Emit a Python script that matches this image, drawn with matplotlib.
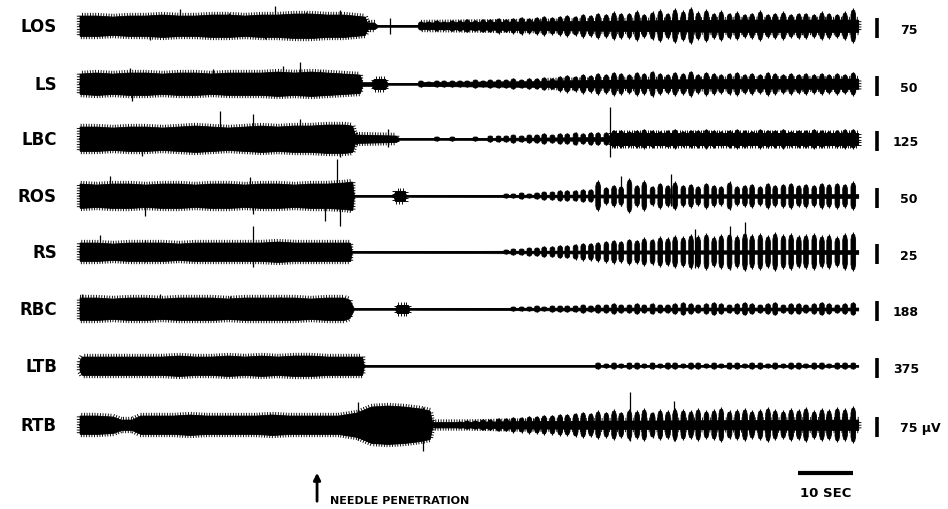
import numpy as np
import matplotlib.pyplot as plt
import matplotlib.patheffects as pe

# channel names and calibration labels (right side)
channels = ['LOS', 'LS', 'LBC', 'ROS', 'RS', 'RBC', 'LTB', 'RTB']
cal_labels = ['75', '50', '125', '50', '25', '188', '375', '75 µV']

needle_t = 43.1      # s, needle penetration
scale_sec = 10       # time scale bar
trace_end = 141.5    # s

# burst times (s) of the rhythmic activity after penetration, shared by all channels
burst_t = [62.0, 63.4, 64.9, 66.2, 67.7, 69.1, 70.4, 71.9, 73.3, 74.6,
           76.1, 77.5, 78.8, 80.3, 81.7, 83.1, 84.4, 85.9, 87.3, 88.6,
           90.1, 91.5, 92.9, 94.2, 95.7, 97.1, 98.4, 99.9, 101.3, 102.6,
           104.1, 105.5, 106.9, 108.2, 109.7, 111.1, 112.4, 113.9, 115.3, 116.6,
           118.1, 119.5, 120.9, 122.2, 123.7, 125.1, 126.4, 127.9, 129.3, 130.7,
           132.0, 133.5, 134.9, 136.2, 137.7, 139.1, 140.6]

# continuous envelope (time s, half amplitude)
los_t = [0, 3, 6, 9, 12, 15, 18, 21, 24, 27, 30, 33, 36, 39, 42, 45, 48, 51.8, 52.2, 53.6, 54.0, 61.5, 62.0, 80, 100, 120, 141.5]
los_a = [10, 10, 9, 10, 10, 11, 10, 10, 11, 11, 10, 11, 11, 12, 12, 11, 11, 9, 3, 3, 0.8, 0.8, 3, 4, 5, 6, 6]
ls_t = [0, 3, 6, 9, 12, 15, 18, 21, 24, 27, 30, 33, 36, 39, 42, 45, 48, 50.9, 51.3, 53.0, 53.4, 55.5, 55.9, 61.5, 62.0, 85, 100, 141.5]
ls_a = [10, 11, 10, 11, 11, 10, 11, 11, 10, 11, 11, 11, 12, 11, 12, 11, 10, 9, 2, 2, 5, 5, 0.8, 0.8, 2, 3, 4, 5]
lbc_t = [0, 3, 6, 9, 12, 15, 18, 21, 24, 27, 30, 33, 36, 39, 42, 45, 48, 49.5, 50.0, 57.5, 58.0, 66, 96.0, 96.5, 141.5]
lbc_a = [12, 12, 11, 12, 12, 11, 12, 13, 12, 11, 12, 13, 12, 13, 13, 14, 14, 13, 4, 3, 0.8, 0.8, 2, 6, 6]
ros_t = [0, 3, 6, 9, 12, 15, 18, 21, 24, 27, 30, 33, 36, 39, 42, 45, 48, 49.5, 49.8, 57.0, 57.3, 59.0, 59.3, 95, 141.5]
ros_a = [12, 11, 12, 12, 11, 12, 12, 11, 12, 12, 11, 12, 12, 11, 12, 12, 13, 14, 0.8, 0.8, 5, 5, 0.8, 1.5, 2]
rs_t = [0, 3, 6, 9, 12, 15, 18, 21, 24, 27, 30, 33, 36, 39, 42, 45, 48, 49.1, 49.4, 95, 141.5]
rs_a = [9, 9, 8, 9, 9, 9, 8, 9, 9, 9, 9, 9, 10, 9, 9, 9, 9, 9, 0.8, 1.5, 2]
rbc_t = [0, 3, 6, 9, 12, 15, 18, 21, 24, 27, 30, 33, 36, 39, 42, 45, 48, 49.0, 49.8, 57.3, 57.6, 59.6, 59.9, 95, 141.5]
rbc_a = [11, 11, 10, 11, 11, 10, 11, 11, 11, 10, 11, 11, 11, 11, 10, 11, 11, 9, 0.8, 0.8, 4, 4, 0.8, 1.5, 1.5]
ltb_t = [0, 0.4, 3, 6, 9, 12, 15, 18, 21, 24, 27, 30, 33, 36, 39, 42, 45, 48, 51.3, 51.6, 141.5]
ltb_a = [5, 9, 9, 9, 9, 9, 9, 10, 9, 9, 10, 9, 10, 9, 10, 10, 9, 9, 9, 0.8, 0.8]
rtb_t = [0, 3, 6, 7.5, 9.5, 11, 14, 17, 20, 23, 26, 29, 32, 35, 38, 41, 44, 47, 50.4, 53, 56, 59, 62, 63.6, 64.0, 70, 80, 100, 141.5]
rtb_a = [9, 9, 8, 5, 5, 9, 9, 9, 10, 9, 9, 9, 9, 10, 9, 9, 9, 9, 12, 18, 19, 18, 16, 14, 2.5, 2.5, 3.5, 4, 5]

# burst half amplitudes, one per burst_t
los_b = [4, 4, 5, 4, 5, 5, 6, 5, 6, 6, 7, 6, 7, 8, 7, 8, 9, 8, 9, 10,
         9, 11, 10, 12, 11, 13, 12, 12, 14, 11, 13, 15, 12, 16, 14, 17, 13, 15, 12, 14,
         12, 13, 11, 12, 14, 11, 12, 13, 11, 12, 12, 11, 13, 12, 11, 13, 16]
ls_b = [3, 2, 3, 3, 3, 3, 3, 4, 3, 4, 4, 4, 5, 4, 5, 5, 6, 5, 7, 8,
        7, 9, 8, 10, 9, 11, 10, 9, 11, 10, 12, 10, 9, 11, 10, 12, 9, 11, 10, 9,
        10, 11, 9, 10, 9, 11, 10, 9, 10, 9, 10, 9, 10, 9, 10, 9, 11]
lbc_b = [0, 0, 2, 0, 2, 0, 0, 2, 0, 3, 3, 3, 4, 3, 4, 4, 5, 4, 5, 5,
         6, 5, 6, 6, 6, 8, 8, 7, 8, 9, 8, 7, 8, 9, 7, 8, 8, 9, 8, 7,
         8, 9, 8, 7, 9, 8, 8, 9, 7, 8, 8, 9, 8, 7, 8, 9, 9]
ros_b = [0, 0, 0, 0, 0, 0, 0, 0, 0, 0, 0, 2, 2, 3, 2, 3, 4, 4, 5, 5,
         5, 6, 6, 14, 8, 10, 9, 16, 10, 14, 9, 12, 10, 13, 10, 11, 9, 12, 10, 9,
         13, 9, 10, 11, 9, 12, 10, 11, 12, 10, 11, 10, 12, 11, 12, 11, 13]
rs_b = [0, 0, 0, 0, 0, 0, 0, 0, 0, 0, 0, 2, 3, 3, 4, 4, 5, 5, 6, 6,
        7, 8, 8, 9, 10, 11, 10, 12, 11, 13, 12, 14, 13, 15, 14, 16, 15, 17, 14, 16,
        17, 15, 18, 16, 17, 15, 18, 16, 17, 15, 16, 17, 15, 16, 14, 17, 18]
rbc_b = [0, 0, 0, 0, 0, 0, 0, 0, 0, 0, 0, 0, 2, 2, 2, 3, 2, 3, 3, 3,
         3, 4, 3, 4, 4, 5, 4, 4, 5, 4, 5, 4, 4, 5, 6, 5, 4, 5, 6, 5,
         4, 5, 6, 5, 4, 5, 6, 4, 5, 5, 4, 5, 6, 5, 4, 5, 6]
ltb_b = [0, 0, 0, 0, 0, 0, 0, 0, 0, 0, 0, 0, 0, 0, 0, 0, 0, 0, 0, 0,
         0, 0, 0, 3, 2, 3, 2, 3, 3, 2, 3, 2, 3, 3, 2, 3, 3, 2, 3, 2,
         3, 3, 2, 3, 3, 2, 3, 2, 3, 3, 2, 3, 3, 2, 3, 3, 3]
rtb_b = [0, 0, 0, 0, 0, 3, 4, 4, 5, 5, 6, 6, 7, 7, 8, 8, 9, 9, 10, 10,
         11, 12, 11, 13, 12, 14, 12, 14, 13, 15, 12, 14, 13, 15, 14, 13, 15, 13, 14, 16,
         13, 14, 15, 13, 14, 16, 14, 13, 15, 14, 16, 13, 15, 14, 16, 15, 17]

# single spikes: time, extent up, extent down
los_sp = [(12.7, 10, 14), (18.2, 17, 9), (27.0, 13, 11), (33.6, 11, 13), (35.5, 20, 9), (41.0, 14, 10), (47.3, 16, 9), (56.4, 8, 8)]
ls_sp = [(9.1, 16, 9), (9.5, 8, 17), (24.2, 15, 10), (36.9, 18, 9), (40.0, 22, 12), (43.6, 14, 10)]
lbc_sp = [(11.3, 12, 17), (25.5, 28, 11), (31.5, 25, 12), (40.0, 20, 12), (47.3, 14, 18), (56.0, 10, 8), (96.4, 32, 18)]
ros_sp = [(5.5, 20, 10), (11.8, 9, 20), (30.9, 19, 10), (31.5, 10, 18), (44.5, 10, 25), (46.7, 37, 14), (47.3, 12, 30), (98.4, 20, 10), (107.5, 22, 10)]
rs_sp = [(3.6, 17, 9), (11.8, 12, 10), (31.5, 26, 15), (49.1, 8, 9), (111.8, 23, 16), (118.2, 26, 17), (120.9, 30, 18)]
rbc_sp = [(0.4, 15, 10), (14.5, 15, 9), (27.3, 13, 10), (36.4, 12, 9)]
ltb_sp = []
rtb_sp = [(34.5, 12, 10), (50.5, 23, 15), (62.4, 18, 26), (100.0, 33, 16), (108.0, 24, 16)]

env_t = [los_t, ls_t, lbc_t, ros_t, rs_t, rbc_t, ltb_t, rtb_t]
env_a = [los_a, ls_a, lbc_a, ros_a, rs_a, rbc_a, ltb_a, rtb_a]
bursts = [los_b, ls_b, lbc_b, ros_b, rs_b, rbc_b, ltb_b, rtb_b]
spikes = [los_sp, ls_sp, lbc_sp, ros_sp, rs_sp, rbc_sp, ltb_sp, rtb_sp]

# layout (figure pixels)
X0 = 80
PX_PER_S = 5.5
row_y = [27, 85, 140, 197, 253, 310, 367, 426]
burst_w = 0.42                                   # half width of one burst, s
burst_dx = [-1, -0.6, 0, 0.6, 1]
burst_dy = [0.7, 0.95, 1.0, 0.95, 0.7]
hairy = [pe.withTickedStroke(spacing=1.9, angle=90, length=1.2, linewidth=0.65)]

fig = plt.figure(figsize=(9.48, 5.10), dpi=100)
ax = fig.add_axes([0, 0, 1, 1])
ax.set_xlim(-X0 / PX_PER_S, (948 - X0) / PX_PER_S)
ax.set_ylim(510, 0)
ax.axis('off')

dx = np.array(burst_dx) * burst_w
dy = np.array(burst_dy)
for i, name in enumerate(channels):
    c = row_y[i]
    t = np.array(env_t[i])
    a = np.array(env_a[i])
    ax.plot([0, trace_end], [c, c], color='k', lw=1.3)
    ax.fill_between(t, c - a, c + a, color='k', lw=0.5)
    busy = ax.fill_between(t, c - a, c + a, where=a > 2, color='k', lw=0.5)
    busy.set_path_effects(hairy)
    for tb, b in zip(burst_t, bursts[i]):
        if b <= 0:
            continue
        xs = np.concatenate([tb + dx, (tb + dx)[::-1]])
        ys = np.concatenate([c - b * dy, (c + b * dy)[::-1]])
        ax.fill(xs, ys, color='k', lw=0.6)
        ax.vlines(tb, c - 1.12 * b, c + 1.08 * b, color='k', lw=0.8)
    if spikes[i]:
        st, up, dn = np.array(spikes[i]).T
        ax.vlines(st, c - up, c + dn, color='k', lw=0.9)
    ax.text(-4.2, c, name, ha='right', va='center', fontsize=12, fontweight='bold')
    # calibration bar and value
    ax.vlines(144.9, c - 8, c + 12, color='k', lw=2.6)
    lbl = cal_labels[i]
    xl = 900 if len(lbl.split()[0]) == 2 else 893
    ax.text((xl - X0) / PX_PER_S, c + 3, lbl, ha='left', va='center', fontsize=9, fontweight='bold')

# needle penetration arrow
ax.annotate('', xy=(needle_t, 471), xytext=(needle_t, 505),
            arrowprops=dict(arrowstyle='-|>', color='k', lw=2.0, mutation_scale=10))
ax.text(needle_t + 2.4, 504, 'NEEDLE PENETRATION', ha='left', va='baseline', fontsize=8, fontweight='bold')

# time scale bar
ax.plot([trace_end - 1 - scale_sec, trace_end - 1], [474, 474], color='k', lw=3, solid_capstyle='butt')
ax.text(trace_end - 1 - scale_sec / 2, 494, f'{scale_sec} SEC', ha='center', va='center', fontsize=9.5, fontweight='bold')

fig.savefig('out.png', dpi=100)
